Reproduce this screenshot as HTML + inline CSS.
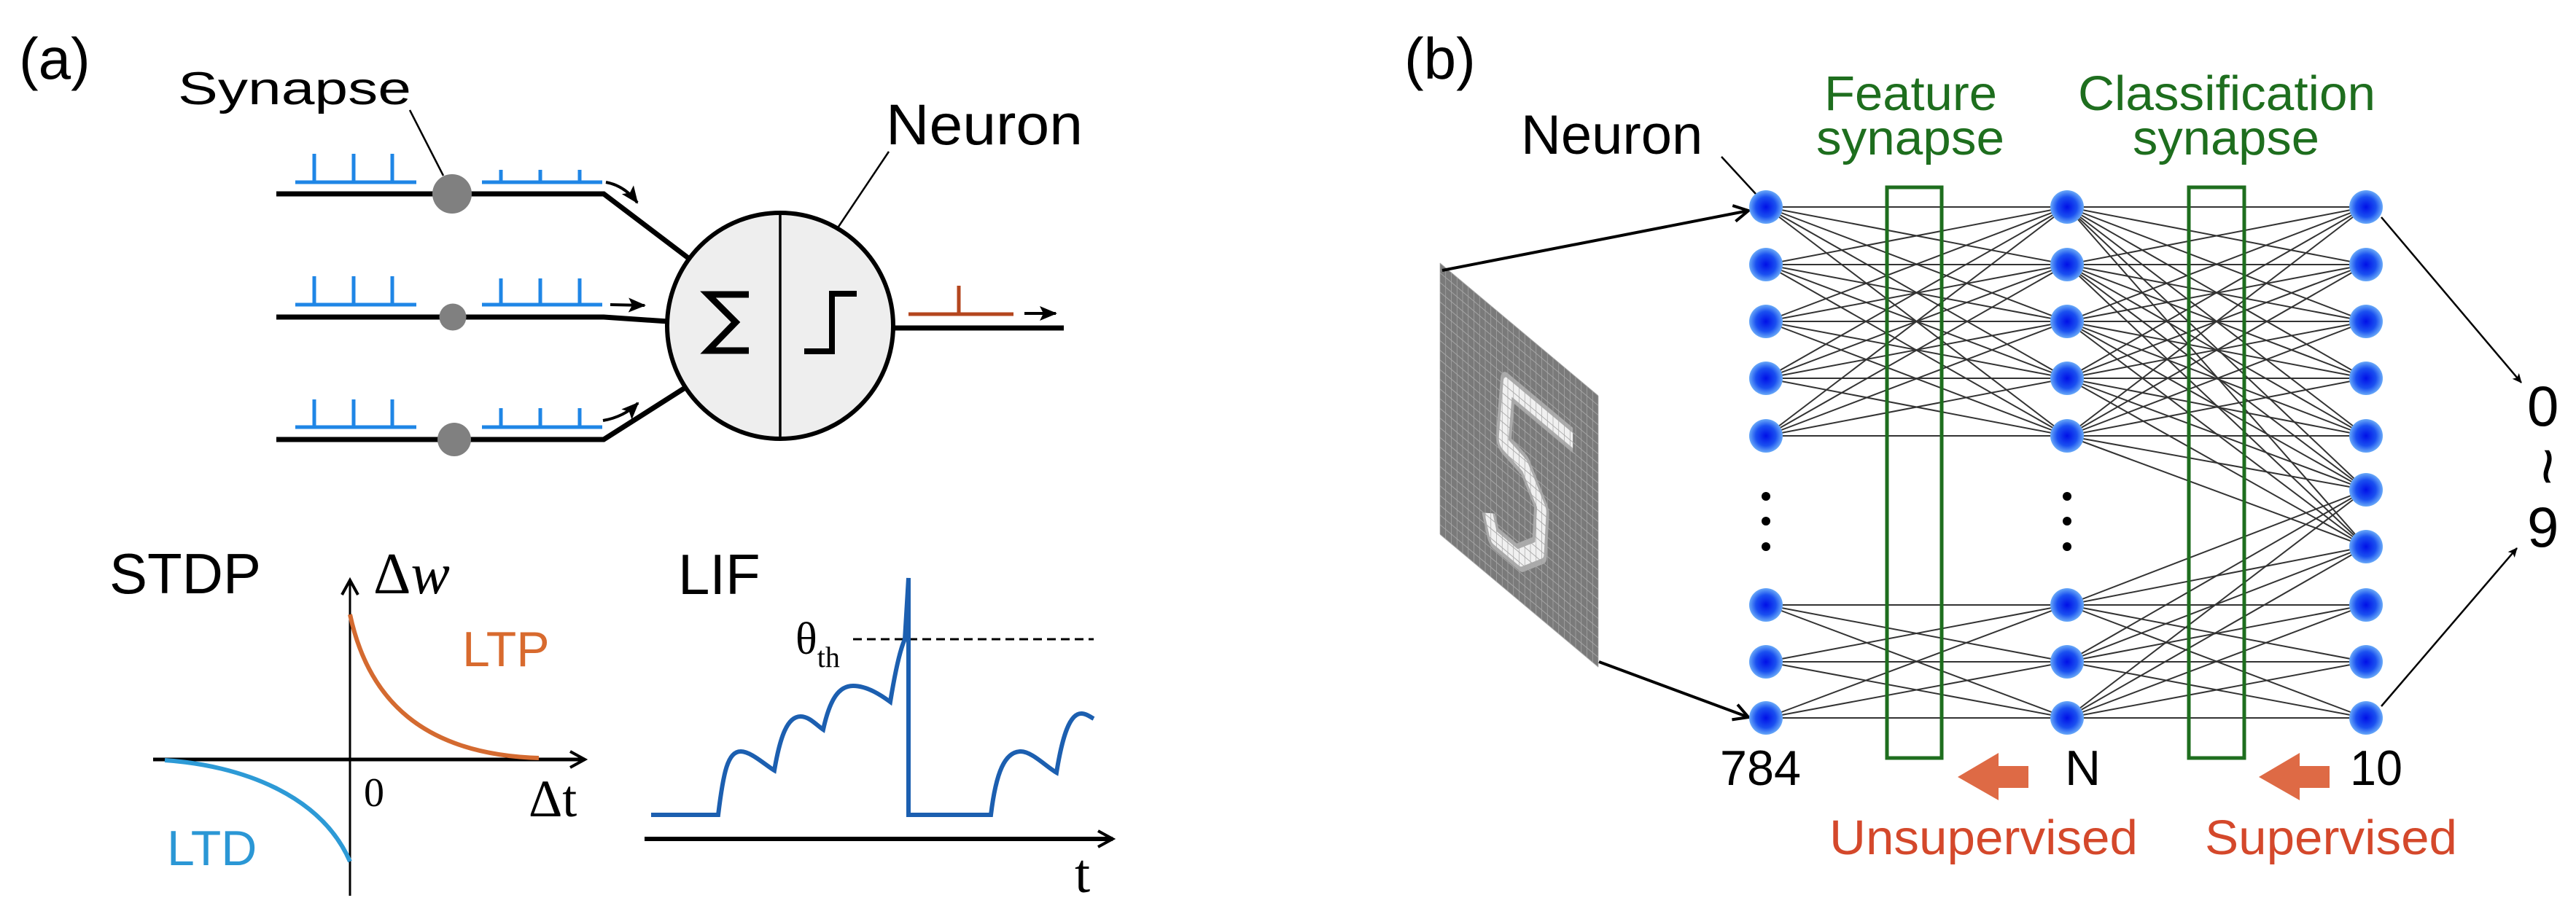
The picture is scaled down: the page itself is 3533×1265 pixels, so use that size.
<!DOCTYPE html>
<html><head><meta charset="utf-8"><style>
html,body{margin:0;padding:0;background:#fff;}
svg{display:block;}
.s{font-family:"Liberation Sans",sans-serif;}
.r{font-family:"Liberation Serif",serif;}
</style></head><body>
<svg id="sv" xmlns="http://www.w3.org/2000/svg" width="3533" height="1265" viewBox="0 0 3533 1265">
<defs>
<radialGradient id="ng" cx="50%" cy="50%" r="50%">
<stop offset="0" stop-color="#0010e8"/><stop offset="0.6" stop-color="#1a50f0"/><stop offset="1" stop-color="#6aaaf8"/>
</radialGradient>
<marker id="ah" markerWidth="26" markerHeight="22" refX="22" refY="11" orient="auto" markerUnits="userSpaceOnUse"><path d="M0,1 L24,11 L0,21 L5,11 z" fill="#000"/></marker>
<marker id="sh" markerWidth="14" markerHeight="12" refX="12" refY="6" orient="auto" markerUnits="userSpaceOnUse"><path d="M0,0 L13,6 L0,12 L3,6 z" fill="#000"/></marker>
<marker id="oa" markerWidth="26" markerHeight="26" refX="22" refY="13" orient="auto" markerUnits="userSpaceOnUse"><path d="M2,2 L22,13 L2,24" fill="none" stroke="#000" stroke-width="4"/></marker>
</defs>

<!-- (a) -->
<text x="26" y="108" class="s" font-size="80">(a)</text>
<text x="244" y="143" class="s" font-size="63" textLength="320" lengthAdjust="spacingAndGlyphs">Synapse</text>
<text x="1215" y="198" class="s" font-size="79" textLength="270" lengthAdjust="spacingAndGlyphs">Neuron</text>
<line x1="562" y1="151" x2="608" y2="241" stroke="#000" stroke-width="2.5"/>
<line x1="1219" y1="208" x2="1150" y2="311" stroke="#000" stroke-width="2.5"/>

<g stroke="#000" stroke-width="7" fill="none">
<polyline points="379,266 828,266 944,354"/>
<polyline points="379,435 828,435 916,441"/>
<polyline points="379,603 828,603 938,533"/>
<line x1="1226" y1="450" x2="1459" y2="450"/>
</g>
<g fill="#808080">
<circle cx="620" cy="266" r="27"/>
<circle cx="621" cy="435" r="18.5"/>
<circle cx="623" cy="603" r="23"/>
</g>
<g stroke="#1f86e6" stroke-width="5" fill="none">
<line x1="405" y1="250" x2="571" y2="250"/><path d="M431,250V211M485,250V211M538,250V211"/>
<line x1="661" y1="250" x2="826" y2="250"/><path d="M687,250V233M741,250V233M795,250V233"/>
<line x1="405" y1="418" x2="571" y2="418"/><path d="M431,418V379M485,418V379M538,418V379"/>
<line x1="661" y1="418" x2="826" y2="418"/><path d="M687,418V382M741,418V382M795,418V382"/>
<line x1="405" y1="586" x2="571" y2="586"/><path d="M431,586V548M485,586V548M538,586V548"/>
<line x1="661" y1="586" x2="826" y2="586"/><path d="M687,586V560M741,586V560M795,586V560"/>
</g>
<g stroke="#000" stroke-width="4" fill="none">
<path d="M831,250 Q857,255 874,278" marker-end="url(#ah)"/>
<line x1="837" y1="418" x2="884" y2="419" marker-end="url(#ah)"/>
<path d="M827,577 Q856,572 875,553" marker-end="url(#ah)"/>
<line x1="1405" y1="430" x2="1448" y2="430" marker-end="url(#ah)"/>
</g>
<circle cx="1070" cy="447" r="155" fill="#eeeeee" stroke="#000" stroke-width="6"/>
<line x1="1070" y1="292" x2="1070" y2="602" stroke="#000" stroke-width="3.5"/>
<polyline points="1027,404 971,404 1009,442 971,481 1027,481" fill="none" stroke="#000" stroke-width="9" stroke-linejoin="miter"/>
<polyline points="1103,482 1141,482 1141,403 1175,403" fill="none" stroke="#000" stroke-width="8"/>
<g stroke="#b4461e" stroke-width="5"><line x1="1246" y1="431" x2="1390" y2="431"/><line x1="1315" y1="431" x2="1315" y2="392"/></g>

<!-- STDP -->
<text x="150" y="814" class="s" font-size="78">STDP</text>
<line x1="480" y1="1229" x2="480" y2="796" stroke="#000" stroke-width="3" marker-end="url(#oa)"/>
<text x="512" y="814" class="r" font-size="80">Δ<tspan font-style="italic">w</tspan></text>
<line x1="210" y1="1042" x2="802" y2="1042" stroke="#000" stroke-width="5" marker-end="url(#oa)"/>
<path d="M480,843 C505,960 580,1035 739,1040" fill="none" stroke="#d46a30" stroke-width="6"/>
<path d="M226,1043 C330,1050 440,1090 480,1182" fill="none" stroke="#2d9ad6" stroke-width="6"/>
<text x="634" y="914" class="s" font-size="68" fill="#d86a2e">LTP</text>
<text x="229" y="1187" class="s" font-size="68" fill="#2b97d5">LTD</text>
<text x="499" y="1106" class="r" font-size="56">0</text>
<text x="725" y="1120" class="r" font-size="72">Δt</text>

<!-- LIF -->
<text x="930" y="815" class="s" font-size="78">LIF</text>
<line x1="1170" y1="877" x2="1500" y2="877" stroke="#000" stroke-width="3" stroke-dasharray="12,7"/>
<text x="1091" y="897" class="r" font-size="62">θ<tspan font-size="40" dy="18">th</tspan></text>
<path d="M893,1118 L985,1118 C992,1060 998,1031 1016,1031 C1030,1031 1050,1050 1062,1057 C1070,1010 1080,983 1098,983 C1110,983 1120,995 1129,1001 C1138,960 1150,941 1170,941 C1190,941 1210,955 1221,963 C1228,920 1235,890 1241,877 L1246,793 L1246,1118 L1359,1118 C1366,1060 1378,1031 1400,1031 C1415,1031 1435,1052 1449,1060 C1457,1010 1467,979 1483,979 C1490,979 1496,984 1500,986" fill="none" stroke="#1c5fb0" stroke-width="6"/>
<line x1="884" y1="1151" x2="1526" y2="1151" stroke="#000" stroke-width="6" marker-end="url(#oa)"/>
<text x="1474" y="1224" class="r" font-size="76">t</text>

<!-- (b) -->
<text x="1926" y="108" class="s" font-size="80">(b)</text>
<text x="2086" y="211" class="s" font-size="76">Neuron</text>
<line x1="2361" y1="215" x2="2408" y2="266" stroke="#000" stroke-width="2.5"/>
<g class="s" font-size="67" fill="#1e6e1e">
<text x="2502" y="151" textLength="237" lengthAdjust="spacingAndGlyphs">Feature</text>
<text x="2491" y="212" textLength="258" lengthAdjust="spacingAndGlyphs">synapse</text>
<text x="2850" y="151" textLength="408" lengthAdjust="spacingAndGlyphs">Classification</text>
<text x="2925" y="212" textLength="256" lengthAdjust="spacingAndGlyphs">synapse</text>
</g>

<!-- image -->
<g transform="matrix(7.75,6.5,0,13.29,1975,361)">
<rect x="0" y="0" width="28" height="28" fill="#7a7a7a"/>
<polyline points="23.5,6.8 12,6.8 11.2,13 15,13.6 18,16.5 17.6,21 14,23.6 9.5,23.6 8.6,21.6" fill="none" stroke="#aaaaaa" stroke-width="2.6" stroke-linejoin="round"/>
<polyline points="23.5,6.8 12,6.8 11.2,13 15,13.6 18,16.5 17.6,21 14,23.6 9.5,23.6 8.6,21.6" fill="none" stroke="#f0f0f0" stroke-width="1.6" stroke-linejoin="round"/>
<g id="grid" stroke="#a8a8a8" stroke-width="0.09"></g>
</g>
<g stroke="#000" stroke-width="4" fill="none">
<line x1="1978" y1="371" x2="2398" y2="289" marker-end="url(#oa)"/>
<line x1="2193" y1="908" x2="2398" y2="984" marker-end="url(#oa)"/>
</g>
<g stroke="#000" stroke-width="2.5" fill="none">
<line x1="3266" y1="298" x2="3458" y2="525" marker-end="url(#sh)"/>
<line x1="3266" y1="969" x2="3452" y2="752" marker-end="url(#sh)"/>
</g>
<g id="conn" stroke="#333" stroke-width="2"></g>
<g fill="none" stroke="#1e6e1e" stroke-width="5">
<rect x="2588" y="257" width="75" height="783"/>
<rect x="3002" y="257" width="76" height="783"/>
</g>
<g id="nodes"></g>
<g fill="#000">
<circle cx="2422" cy="681" r="6"/><circle cx="2422" cy="715" r="6"/><circle cx="2422" cy="750" r="6"/>
<circle cx="2835" cy="681" r="6"/><circle cx="2835" cy="715" r="6"/><circle cx="2835" cy="750" r="6"/>
</g>
<g class="s" font-size="68">
<text x="2359" y="1077" textLength="111" lengthAdjust="spacingAndGlyphs">784</text>
<text x="2832" y="1077">N</text>
<text x="3223" y="1077" textLength="72" lengthAdjust="spacingAndGlyphs">10</text>
<text x="3466" y="584" font-size="78">0</text><text x="3466" y="750" font-size="78">9</text>
</g>
<text x="3488" y="640" class="s" font-size="90" text-anchor="middle" transform="rotate(90 3488 640)" dominant-baseline="middle">~</text>
<g fill="#de6a45">
<path d="M2685,1066 L2741,1033 L2741,1051 L2782,1051 L2782,1081 L2741,1081 L2741,1098 z"/>
<path d="M3098,1066 L3154,1033 L3154,1051 L3195,1051 L3195,1081 L3154,1081 L3154,1098 z"/>
</g>
<g class="s" font-size="67" fill="#d4482b">
<text x="2509" y="1172" textLength="423" lengthAdjust="spacingAndGlyphs">Unsupervised</text>
<text x="3024" y="1172" textLength="346" lengthAdjust="spacingAndGlyphs">Supervised</text>
</g>
</svg>
<script>
var NS="http://www.w3.org/2000/svg";
function el(p,t,a){var e=document.createElementNS(NS,t);for(var k in a)e.setAttribute(k,a[k]);p.appendChild(e);return e;}
var g=document.getElementById("grid");
for(var i=0;i<=28;i++){el(g,"line",{x1:i,y1:0,x2:i,y2:28});el(g,"line",{x1:0,y1:i,x2:28,y2:i});}
var c1=[284,363,441,519,598,830,908,985];
var c3=[284,363,441,519,598,672,750,830,908,985];
var X1=2422,X2=2835,X3=3245;
var cn=document.getElementById("conn");
function L(a,b,c,d){el(cn,"line",{x1:a,y1:b,x2:c,y2:d});}
for(var i=0;i<5;i++)for(var j=0;j<5;j++)L(X1,c1[i],X2,c1[j]);
for(var i=5;i<8;i++)for(var j=5;j<8;j++)L(X1,c1[i],X2,c1[j]);
for(var i=0;i<5;i++)for(var j=0;j<7;j++)L(X2,c1[i],X3,c3[j]);
for(var i=5;i<8;i++)for(var j=5;j<10;j++)L(X2,c1[i],X3,c3[j]);
var nd=document.getElementById("nodes");
c1.forEach(function(y){el(nd,"ellipse",{cx:X1,cy:y,rx:23,ry:23,fill:"url(#ng)"});el(nd,"ellipse",{cx:X2,cy:y,rx:23,ry:23,fill:"url(#ng)"});});
c3.forEach(function(y){el(nd,"ellipse",{cx:X3,cy:y,rx:23,ry:23,fill:"url(#ng)"});});
</script>
</body></html>
